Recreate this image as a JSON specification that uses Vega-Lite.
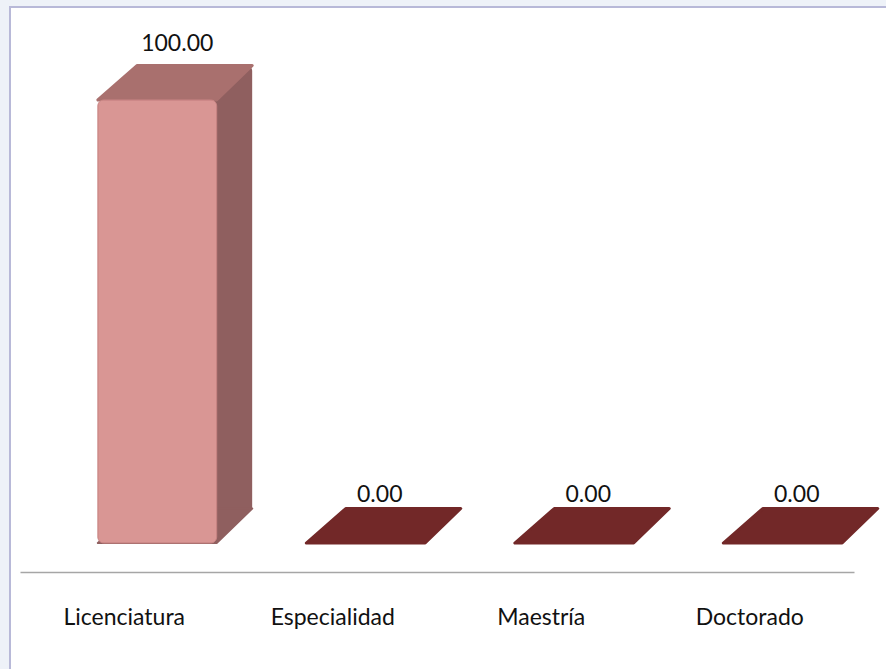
{
  "$schema": "https://vega.github.io/schema/vega-lite/v6.json",
  "autosize": "none",
  "width": 876,
  "height": 662,
  "padding": {"left": 10, "top": 7, "right": 0, "bottom": 0},
  "background": "#eef2f8",
  "config": {
    "view": {"fill": "white", "stroke": "#b8b9d8", "strokeWidth": 2, "strokeDash": [876, 1538, 664]},
    "font": "Lato"
  },
  "data": {
    "values": [
      {"nivel": "Licenciatura", "valor": 100},
      {"nivel": "Especialidad", "valor": 0},
      {"nivel": "Maestría", "valor": 0},
      {"nivel": "Doctorado", "valor": 0}
    ]
  },
  "encoding": {
    "x": {
      "field": "nivel", "type": "nominal", "sort": null,
      "scale": {"range": [10, 844], "paddingInner": 0, "paddingOuter": 0},
      "axis": {
        "title": null, "ticks": false, "tickSize": 0, "grid": false,
        "domainColor": "#a6a6a6", "domainWidth": 1.5,
        "labelColor": "#111111", "labelFont": "Lato", "labelFontSize": 23,
        "labelPadding": 52, "labelBaseline": "alphabetic", "labelAngle": 0,
        "offset": -97
      }
    }
  },
  "layer": [
    {
      "transform": [{"filter": "datum.valor > 0"}],
      "mark": {"type": "bar", "color": "#8f5f5f", "width": {"band": 0.57}, "xOffset": 68.5, "yOffset": -35, "y2Offset": -35,
               "cornerRadiusTopLeft": 6, "cornerRadiusTopRight": 6},
      "encoding": {
        "y": {"field": "valor", "type": "quantitative", "stack": null, "scale": {"domain": [-28.44, 120.99], "nice": false, "zero": false}, "axis": null},
        "y2": {"datum": 0}
      }
    },
    {
      "transform": [{"filter": "datum.valor > 0"}],
      "mark": {"type": "point", "filled": true, "opacity": 1, "size": 14400, "xOffset": 33,
               "shape": "M-0.99,0 L0.99,0 L1.583,-0.575 L-0.333,-0.575 Z",
               "color": "#8f5f5f", "stroke": "#8f5f5f", "strokeWidth": 2, "strokeJoin": "round"},
      "encoding": {"y": {"datum": 0, "type": "quantitative"}}
    },
    {
      "mark": {"type": "point", "filled": true, "opacity": 1, "size": 14400, "xOffset": 33,
               "shape": "M-0.99,0 L0.99,0 L1.583,-0.575 L-0.333,-0.575 Z",
               "strokeWidth": 3, "strokeJoin": "round"},
      "encoding": {
        "y": {"field": "valor", "type": "quantitative"},
        "color": {"condition": {"test": "datum.valor > 0", "value": "#a9706e"}, "value": "#722828"},
        "stroke": {"condition": {"test": "datum.valor > 0", "value": "#a9706e"}, "value": "#722828"}
      }
    },
    {
      "transform": [{"filter": "datum.valor > 0"}],
      "mark": {"type": "bar", "color": "#d99694", "width": {"band": 0.57}, "xOffset": 33, "cornerRadius": 6,
               "stroke": "#c98584", "strokeWidth": 1},
      "encoding": {"y": {"field": "valor", "type": "quantitative"}}
    },
    {
      "transform": [{"filter": "datum.valor > 0"}],
      "mark": {"type": "text", "font": "Lato", "fontSize": 23, "color": "#111111", "baseline": "alphabetic", "align": "center", "dx": 53, "dy": -49},
      "encoding": {
        "y": {"field": "valor", "type": "quantitative"},
        "text": {"field": "valor", "type": "quantitative", "format": ".2f"}
      }
    },
    {
      "transform": [{"filter": "datum.valor == 0"}],
      "mark": {"type": "text", "font": "Lato", "fontSize": 23, "color": "#111111", "baseline": "alphabetic", "align": "center", "dx": 47, "dy": -41},
      "encoding": {
        "y": {"field": "valor", "type": "quantitative"},
        "text": {"field": "valor", "type": "quantitative", "format": ".2f"}
      }
    }
  ]
}
